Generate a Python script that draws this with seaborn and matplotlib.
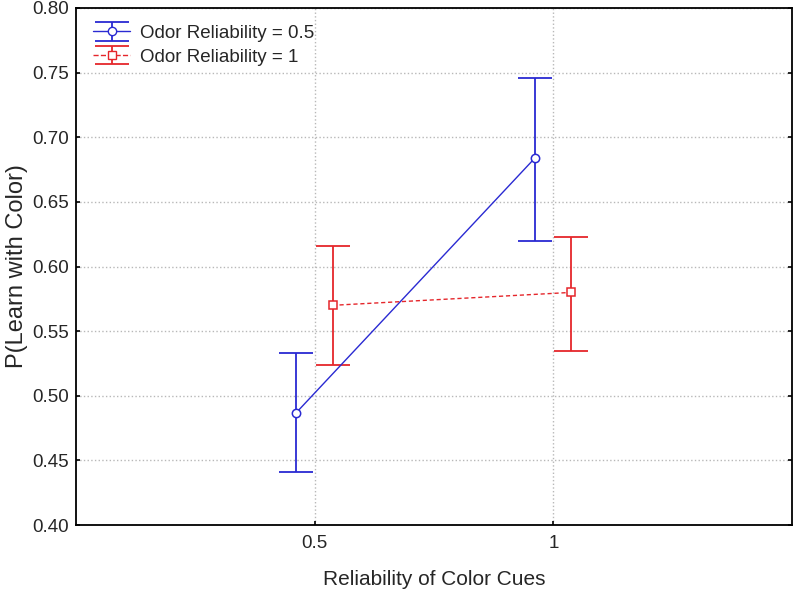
import numpy as np
import pandas as pd
import matplotlib
matplotlib.use('Agg')
import matplotlib.pyplot as plt
import seaborn as sns

# values
color_cues = ['0.5', '1']
odor_levels = ['Odor Reliability = 0.5', 'Odor Reliability = 1']
mean_odor_05 = [0.487, 0.684]
upper_odor_05 = [0.533, 0.746]
lower_odor_05 = [0.441, 0.620]
mean_odor_1 = [0.570, 0.580]
upper_odor_1 = [0.616, 0.623]
lower_odor_1 = [0.524, 0.535]

offsets = [-0.077, 0.075]
colors = ['#2a2ad2', '#e5262b']
markers = ['o', 's']
linestyles = ['-', '--']

rows = []
for k, (m, u, l) in enumerate([(mean_odor_05, upper_odor_05, lower_odor_05),
                                (mean_odor_1, upper_odor_1, lower_odor_1)]):
    for i, cue in enumerate(color_cues):
        rows.append({'cue': cue, 'pos': i + offsets[k], 'odor': odor_levels[k],
                     'mean': m[i], 'upper': u[i], 'lower': l[i]})
df = pd.DataFrame(rows)

sns.set_style('white')
plt.rcParams['font.family'] = ['Liberation Sans', 'DejaVu Sans']

fig = plt.figure(figsize=(7.96, 5.92), dpi=100)
ax = fig.add_axes([0.0955, 0.113, 0.8995, 0.8735])

for k, odor in enumerate(odor_levels):
    sub = df[df['odor'] == odor]
    sns.lineplot(data=sub, x='pos', y='mean', ax=ax, color=colors[k],
                 linestyle=linestyles[k], linewidth=1, marker=markers[k],
                 markersize=6, markerfacecolor='white',
                 markeredgecolor=colors[k], markeredgewidth=1.1, legend=False,
                 dashes=False, zorder=3)
    if k == 1:
        ax.lines[-1].set_dashes((3, 2))
    ax.errorbar(sub['pos'], sub['mean'],
                yerr=[sub['mean'] - sub['lower'], sub['upper'] - sub['mean']],
                fmt='none', ecolor=colors[k], elinewidth=1.3, capsize=12,
                capthick=1.3, zorder=2)
    # legend proxy
    ax.errorbar([np.nan], [np.nan], yerr=[np.nan], fmt=markers[k] + linestyles[k],
                color=colors[k], markerfacecolor='white', markersize=6,
                linewidth=1, elinewidth=1.3, capsize=12, capthick=1.3, label=odor)

ax.set_xlim(-1, 2)
ax.set_ylim(0.40, 0.80)
ax.set_xticks(range(len(color_cues)))
ax.set_xticklabels(color_cues)
ax.set_yticks(np.arange(0.40, 0.801, 0.05))
ax.set_yticklabels([f'{v:.2f}' for v in np.arange(0.40, 0.801, 0.05)])
ax.grid(True, color='#b8b8b8', linestyle=':', linewidth=1)
ax.tick_params(axis='both', labelsize=13.5, direction='in', length=3, color='black',
               right=True, left=True, bottom=True, width=1.2)
ax.tick_params(axis='x', pad=7)
ax.tick_params(axis='y', pad=5)
for s in ax.spines.values():
    s.set_color('black')
    s.set_linewidth(1.3)

ax.set_xlabel('Reliability of Color Cues', fontsize=15, labelpad=13)
ax.set_ylabel('P(Learn with Color)', fontsize=17, labelpad=3)

ax.legend(loc='upper left', frameon=False, fontsize=13.5, handlelength=2.0,
          handletextpad=0.5, borderaxespad=0.5, labelspacing=0.35,
          borderpad=0.4)

fig.savefig('out.png', dpi=100)
